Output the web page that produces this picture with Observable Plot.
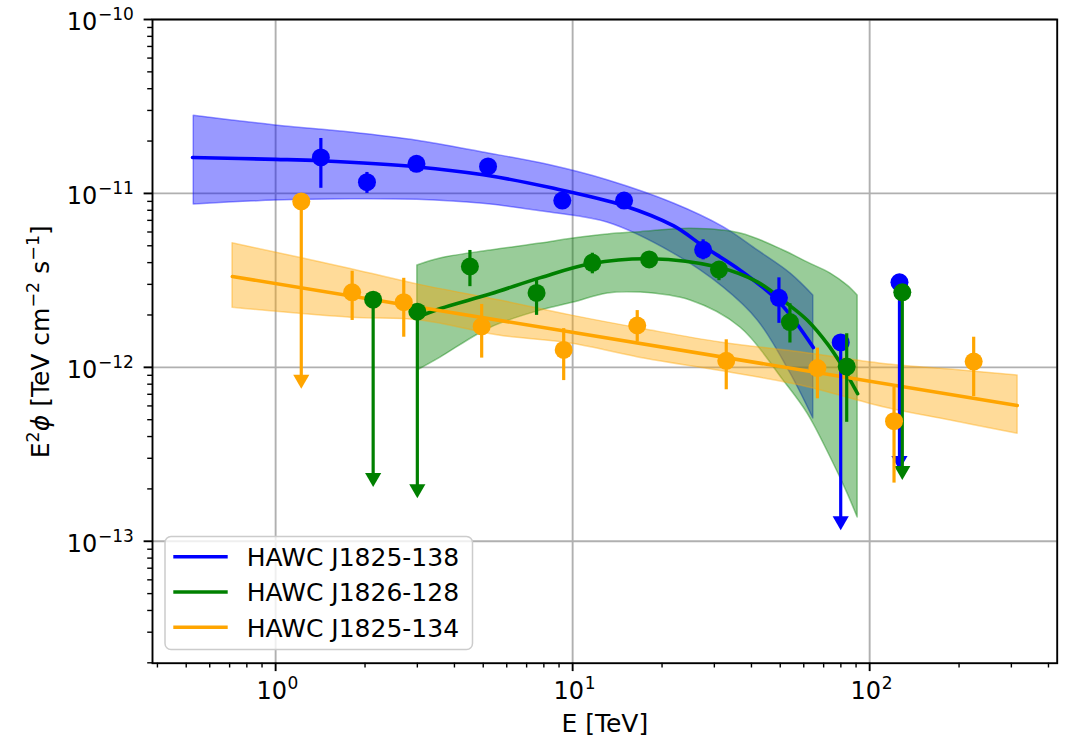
<!DOCTYPE html>
<html>
<head>
<meta charset="utf-8">
<script src="https://cdn.jsdelivr.net/npm/d3@7"></script>
<script src="https://cdn.jsdelivr.net/npm/@observablehq/plot@0.6"></script>
<style>
  html, body { margin: 0; padding: 0; background: #fff; }
  #chart { width: 1068px; height: 738px; }
</style>
</head>
<body>
<div id="chart"></div>
<script>
// ---- Flux points: energy (TeV), E^2 dN/dE and its error range ----
const blueE  = [1.42, 2.03, 2.98, 5.19, 9.23, 14.9, 27.5, 49.5];
const blueF  = [1.61e-11, 1.16e-11, 1.48e-11, 1.43e-11, 9.1e-12, 9.1e-12, 4.74e-12, 2.51e-12];
const blueLo = [1.07e-11, 1.0e-11, 1.40e-11, 1.36e-11, 8.6e-12, 8.6e-12, 4.15e-12, 1.79e-12];
const blueHi = [2.07e-11, 1.32e-11, 1.56e-11, 1.50e-11, 9.6e-12, 9.6e-12, 5.41e-12, 3.27e-12];
const blueUlE   = [79.9, 126];
const blueUlF   = [1.39e-12, 3.08e-12];
const blueUlEnd = [1.31e-13, 2.91e-13];

const greenE  = [4.51, 7.56, 11.65, 18.1, 31.1, 53.9, 83.7];
const greenF  = [3.8e-12, 2.68e-12, 3.99e-12, 4.17e-12, 3.65e-12, 1.82e-12, 1.01e-12];
const greenLo = [2.91e-12, 1.99e-12, 3.45e-12, 3.92e-12, 3.15e-12, 1.38e-12, 4.83e-13];
const greenHi = [4.70e-12, 3.18e-12, 4.53e-12, 4.45e-12, 4.02e-12, 2.32e-12, 1.56e-12];
const greenUlE   = [2.13, 3.0, 128.8];
const greenUlF   = [2.45e-12, 2.09e-12, 2.7e-12];
const greenUlEnd = [2.32e-13, 2.0e-13, 2.55e-13];

const orangeE  = [1.81, 2.70, 4.94, 9.33, 16.5, 32.9, 66.7, 120.8, 224];
const orangeF  = [2.7e-12, 2.37e-12, 1.72e-12, 1.26e-12, 1.74e-12, 1.09e-12, 9.9e-13, 4.9e-13, 1.08e-12];
const orangeLo = [1.86e-12, 1.49e-12, 1.13e-12, 8.39e-13, 1.40e-12, 7.43e-13, 6.59e-13, 2.16e-13, 6.79e-13];
const orangeHi = [3.57e-12, 3.25e-12, 2.30e-12, 1.67e-12, 2.12e-12, 1.44e-12, 1.29e-12, 7.69e-13, 1.49e-12];
const orangeUlE   = [1.22];
const orangeUlF   = [9.0e-12];
const orangeUlEnd = [8.51e-13];

// ---- Best-fit spectra ----
const blueFitE = [0.525, 1.0, 1.42, 3.0, 5.0, 8.4, 14.9, 21.9, 27.4, 36.8, 49.4, 64.6];
const blueFitF = [1.61e-11, 1.57e-11, 1.54e-11, 1.42e-11, 1.28e-11, 1.08e-11, 8.5e-12, 6.5e-12, 5.0e-12, 3.6e-12, 2.39e-12, 1.30e-12];

const greenFitE = [3.0, 3.59, 5.30, 7.80, 11.5, 18.3, 30.8, 42.0, 52.9, 61.8, 72.2, 79.9, 91.1];
const greenFitF = [1.94e-12, 2.18e-12, 2.65e-12, 3.28e-12, 3.94e-12, 4.21e-12, 3.77e-12, 3.09e-12, 2.32e-12, 1.86e-12, 1.36e-12, 1.05e-12, 7.05e-13];

const orangeFitE = [0.715, 9.85, 314];
const orangeFitF = [3.33e-12, 1.595e-12, 6.03e-13];

// ---- 1-sigma bands of the fits ----
const blueBandE  = [0.53, 1.0, 1.79, 3.0, 5.0, 8.4, 13.1, 21.9, 32.2, 42.0, 54.2, 64.6];
const blueBandHi = [2.8e-11, 2.46e-11, 2.24e-11, 2.01e-11, 1.72e-11, 1.45e-11, 1.19e-11, 8.75e-12, 6.4e-12, 4.7e-12, 3.46e-12, 2.59e-12];
const blueBandLo = [8.63e-12, 9.1e-12, 9.26e-12, 9.19e-12, 8.71e-12, 7.76e-12, 6.8e-12, 4.51e-12, 2.88e-12, 1.86e-12, 9.2e-13, 5.08e-13];

const greenBandE  = [3.0, 3.59, 5.30, 7.80, 10.08, 13.12, 16.94, 24.95, 36.8, 51.3, 61.8, 73.9, 84.3, 91.1];
const greenBandHi = [3.85e-12, 4.23e-12, 4.70e-12, 5.15e-12, 5.51e-12, 5.81e-12, 5.99e-12, 6.26e-12, 5.88e-12, 4.70e-12, 4.01e-12, 3.46e-12, 2.95e-12, 2.59e-12];
const greenBandLo = [9.58e-13, 1.138e-12, 1.69e-12, 2.12e-12, 2.36e-12, 2.66e-12, 2.69e-12, 2.42e-12, 1.69e-12, 8.39e-13, 5.42e-13, 3.03e-13, 1.88e-13, 1.37e-13];

const orangeBandE  = [0.716, 1.789, 3.08, 5.72, 9.85, 17.6, 31.5, 58.6, 111.4, 187.4, 314.9];
const orangeBandHi = [5.17e-12, 3.68e-12, 2.97e-12, 2.42e-12, 1.99e-12, 1.65e-12, 1.39e-12, 1.22e-12, 1.045e-12, 9.71e-13, 8.97e-13];
const orangeBandLo = [2.20e-12, 1.93e-12, 1.86e-12, 1.52e-12, 1.37e-12, 1.12e-12, 9.52e-13, 7.86e-13, 5.90e-13, 4.94e-13, 4.15e-13];

// ---- Sources, colours and axis ticks ----
const sourceNames  = ["HAWC J1825-138", "HAWC J1826-128", "HAWC J1825-134"];
const sourceColors = ["#0000ff", "#008000", "#ffa500"];
const xTickExp = [0, 1, 2];
const yTickExp = [-13, -12, -11, -10];

// ---- Build row tables ----
const zip = (cols) => cols[Object.keys(cols)[0]].map((_, i) =>
  Object.fromEntries(Object.entries(cols).map(([k, v]) => [k, v[i]])));

const series = [
  {
    color: sourceColors[0],
    pts: zip({E: blueE, F: blueF, lo: blueLo, hi: blueHi}),
    ul: zip({E: blueUlE, F: blueUlF, end: blueUlEnd}),
    fit: zip({E: blueFitE, F: blueFitF}),
    band: zip({E: blueBandE, lo: blueBandLo, hi: blueBandHi})
  },
  {
    color: sourceColors[1],
    pts: zip({E: greenE, F: greenF, lo: greenLo, hi: greenHi}),
    ul: zip({E: greenUlE, F: greenUlF, end: greenUlEnd}),
    fit: zip({E: greenFitE, F: greenFitF}),
    band: zip({E: greenBandE, lo: greenBandLo, hi: greenBandHi})
  },
  {
    color: sourceColors[2],
    pts: zip({E: orangeE, F: orangeF, lo: orangeLo, hi: orangeHi}),
    ul: zip({E: orangeUlE, F: orangeUlF, end: orangeUlEnd}),
    fit: zip({E: orangeFitE, F: orangeFitF}),
    band: zip({E: orangeBandE, lo: orangeBandLo, hi: orangeBandHi})
  }
];

// minor ticks (2..9 x each decade) inside the axis ranges
const xDomain = [0.385, 428];
const yDomain = [1.99e-14, 1e-10];
const minorTicks = (lo, hi) => {
  const out = [];
  for (let e = Math.floor(Math.log10(lo)); e <= Math.ceil(Math.log10(hi)); e++)
    for (let m = 2; m <= 9; m++) {
      const v = m * Math.pow(10, e);
      if (v >= lo && v <= hi) out.push(v);
    }
  return out;
};
const xMajor = xTickExp.map(d => Math.pow(10, d));
const yMajor = yTickExp.map(d => Math.pow(10, d));
const xMinor = minorTicks(...xDomain);
const yMinor = minorTicks(...yDomain);

const gridColor = "#b0b0b0";
const marks = [
  Plot.gridX(xMajor, {stroke: gridColor, strokeOpacity: 1, strokeWidth: 1.9}),
  Plot.gridY(yMajor, {stroke: gridColor, strokeOpacity: 1, strokeWidth: 1.9}),
];

// confidence bands
for (const s of series) {
  marks.push(Plot.areaY(s.band, {
    x: "E", y1: "lo", y2: "hi", curve: "catmull-rom",
    fill: s.color, fillOpacity: 0.4,
    stroke: s.color, strokeOpacity: 0.4, strokeWidth: 1.5
  }));
}
// fitted spectra
for (const s of series) {
  marks.push(Plot.line(s.fit, {
    x: "E", y: "F", curve: "catmull-rom",
    stroke: s.color, strokeWidth: 3.6
  }));
}
// flux points, error bars and upper limits
for (const s of series) {
  marks.push(
    Plot.ruleX(s.pts, {x: "E", y1: "lo", y2: "hi", stroke: s.color, strokeWidth: 3.2}),
    Plot.ruleX(s.ul, {x: "E", y1: "end", y2: "F", stroke: s.color, strokeWidth: 3.2}),
    Plot.dot(s.ul, {x: "E", y: "end", symbol: "triangle", rotate: 180, r: 6, fill: s.color, stroke: "none"}),
    Plot.dot(s.pts, {x: "E", y: "F", r: 9, fill: s.color, stroke: "none"}),
    Plot.dot(s.ul, {x: "E", y: "F", r: 9, fill: s.color, stroke: "none"})
  );
}

// axes: outward ticks, labels as 10 with a raised exponent
const blank = () => "";
marks.push(
  Plot.axisX(xMajor, {tickSize: 8.4, strokeWidth: 1.9, tickFormat: blank, label: null}),
  Plot.axisX(xMinor, {tickSize: 4.8, strokeWidth: 1.4, tickFormat: blank, label: null}),
  Plot.axisY(yMajor, {tickSize: 8.4, strokeWidth: 1.9, tickFormat: blank, label: null}),
  Plot.axisY(yMinor, {tickSize: 4.8, strokeWidth: 1.4, tickFormat: blank, label: null}),
  Plot.text(xTickExp, {x: d => Math.pow(10, d), frameAnchor: "bottom", text: () => "10",
    textAnchor: "end", lineAnchor: "bottom", dx: 11.5, dy: 35.6, fontSize: 24, fill: "black"}),
  Plot.text(xTickExp, {x: d => Math.pow(10, d), frameAnchor: "bottom", text: d => String(d),
    textAnchor: "start", lineAnchor: "bottom", dx: 12, dy: 25.6, fontSize: 17, fill: "black"}),
  Plot.text(yTickExp, {y: d => Math.pow(10, d), frameAnchor: "left", text: () => "10",
    textAnchor: "end", lineAnchor: "bottom", dx: -55.3, dy: 10.3, fontSize: 24, fill: "black"}),
  Plot.text(yTickExp, {y: d => Math.pow(10, d), frameAnchor: "left", text: d => "\u2212" + Math.abs(d),
    textAnchor: "end", lineAnchor: "bottom", dx: -18.7, dy: 0.3, fontSize: 17, fill: "black"}),
  Plot.text(["E [TeV]"], {frameAnchor: "bottom", text: d => d, lineAnchor: "bottom",
    dy: 69, fontSize: 25, fill: "black"}),
  Plot.frame({stroke: "black", strokeWidth: 1.9})
);

const chart = Plot.plot({
  width: 1068,
  height: 738,
  marginLeft: 152,
  marginRight: 11.3,
  marginTop: 19,
  marginBottom: 75.3,
  x: {type: "log", domain: xDomain},
  y: {type: "log", domain: yDomain},
  style: {fontFamily: "'DejaVu Sans', sans-serif", background: "white", color: "black"},
  marks
});

// y-axis title with math-style superscripts
const svg = d3.select(chart);
const yTitle = svg.append("text")
  .attr("transform", "translate(48.5,341.7) rotate(-90)")
  .attr("text-anchor", "middle")
  .attr("font-family", "'DejaVu Sans', sans-serif")
  .attr("font-size", 25)
  .attr("fill", "black");
yTitle.append("tspan").text("E");
yTitle.append("tspan").attr("font-size", 17.5).attr("dy", -10).text("2");
yTitle.append("tspan").attr("dy", 10).attr("font-style", "italic").text("\u03d5");
yTitle.append("tspan").text(" [TeV cm");
yTitle.append("tspan").attr("font-size", 17.5).attr("dy", -10).text("\u22122");
yTitle.append("tspan").attr("dy", 10).text(" s");
yTitle.append("tspan").attr("font-size", 17.5).attr("dy", -10).text("\u22121");
yTitle.append("tspan").attr("dy", 10).text("]");

// legend box in the lower-left corner of the axes
const legend = svg.append("g")
  .attr("font-family", "'DejaVu Sans', sans-serif")
  .attr("font-size", 25)
  .attr("text-anchor", "start");
legend.append("rect")
  .attr("x", 165).attr("y", 536.5).attr("width", 307.5).attr("height", 113)
  .attr("rx", 6)
  .attr("fill", "white").attr("fill-opacity", 0.8)
  .attr("stroke", "#cccccc").attr("stroke-width", 1.5);
sourceNames.forEach((name, i) => {
  const cy = 556.7 + i * 35.3;
  legend.append("line")
    .attr("x1", 173.3).attr("x2", 227.7).attr("y1", cy).attr("y2", cy)
    .attr("stroke", sourceColors[i]).attr("stroke-width", 3.6);
  legend.append("text")
    .attr("x", 246.7).attr("y", cy + 9.3)
    .attr("text-anchor", "start")
    .attr("fill", "black")
    .text(name);
});

document.getElementById("chart").appendChild(chart);
</script>
</body>
</html>
